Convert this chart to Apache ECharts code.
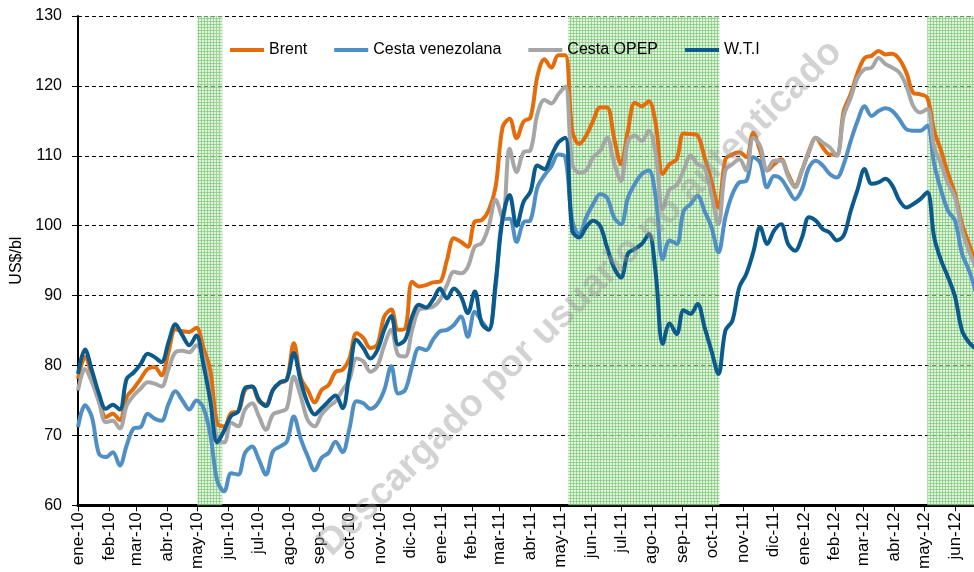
<!DOCTYPE html>
<html>
<head>
<meta charset="utf-8">
<script src="https://cdn.jsdelivr.net/npm/echarts@6/dist/echarts.min.js"></script>
<style>
  html, body { margin: 0; padding: 0; background: #fff; }
  #chart { width: 974px; height: 572px; }
</style>
</head>
<body>
<div id="chart"></div>
<script>
// weekly quotes, first week starts 2010-01-01
const firstWeek = '2010-01-01'

const brent = [
  78.1, 81.2, 78.6, 75.5, 72.6, 73.1, 72.2, 75.5, 76.7, 78.1,
  79.5, 79.8, 78.6, 81.9, 85.2, 84.9, 84.8, 85.4, 82.6, 79.3,
  71.7, 71.3, 73.2, 73.4, 76.5, 77.0, 74.9, 74.4, 76.5, 77.5,
  78.0, 83.2, 78.2, 76.5, 74.7, 76.5, 77.2, 79.1, 79.4, 81.0,
  84.6, 83.9, 82.5, 83.0, 87.0, 88.0, 85.1, 85.3, 92.0, 91.3,
  91.5, 91.9, 92.0, 95.1, 98.2, 97.7, 97.0, 100.6, 100.8, 102.2,
  105.6, 114.1, 115.3, 112.5, 114.9, 115.5, 121.4, 123.8, 122.6, 124.4,
  124.4, 113.6, 111.7, 112.9, 115.0, 116.9, 116.9, 112.6, 108.8, 113.6,
  117.6, 117.1, 117.8, 114.5, 107.4, 108.8, 109.5, 113.2, 113.1, 112.9,
  109.8, 106.4, 102.6, 109.5, 110.2, 110.5, 109.8, 113.3, 110.7, 107.9,
  108.8, 109.5, 107.4, 105.7, 107.9, 110.7, 112.6, 111.2, 110.2, 110.2,
  116.4, 118.8, 121.9, 124.0, 124.3, 125.0, 124.5, 124.6, 123.8, 121.9,
  119.0, 118.8, 118.3, 113.6, 110.7, 107.4, 104.5, 100.2, 97.4, 94.5
]

const venezolana = [
  71.2, 74.3, 72.6, 67.4, 66.9, 67.6, 65.7, 68.6, 71.0, 71.2,
  73.1, 72.4, 72.1, 74.5, 76.3, 75.0, 73.7, 75.0, 74.0, 70.2,
  63.5, 62.0, 64.6, 64.4, 67.5, 68.4, 66.5, 64.4, 67.7, 68.4,
  69.1, 72.7, 69.5, 67.0, 65.0, 66.8, 67.5, 69.1, 67.6, 71.0,
  74.9, 74.6, 73.8, 74.5, 76.5, 79.9, 76.0, 76.5, 79.9, 82.5,
  82.2, 83.7, 84.9, 85.1, 85.8, 87.0, 84.1, 87.7, 86.3, 85.1,
  91.3, 100.8, 101.0, 97.7, 100.5, 100.8, 105.5, 107.2, 108.5, 110.2,
  109.8, 100.7, 98.8, 101.2, 103.1, 104.5, 104.0, 101.2, 100.2, 104.0,
  106.0, 107.4, 107.9, 104.0, 95.2, 97.9, 97.4, 102.1, 103.1, 104.3,
  102.1, 99.8, 96.2, 101.2, 104.5, 106.2, 106.4, 109.8, 109.0, 105.5,
  107.1, 106.7, 105.2, 103.8, 105.2, 108.3, 109.3, 108.6, 107.4, 106.9,
  108.8, 112.1, 115.0, 117.1, 115.7, 116.4, 116.8, 116.4, 115.2, 113.8,
  113.6, 113.6, 114.3, 108.8, 105.0, 102.1, 100.7, 96.0, 93.6, 90.5
]

const opep = [
  76.4, 79.5, 77.6, 74.8, 71.9, 72.1, 71.0, 74.3, 75.7, 76.7,
  77.6, 77.4, 77.0, 79.5, 81.9, 82.1, 81.9, 82.9, 81.2, 75.5,
  69.5, 69.0, 71.8, 71.3, 73.7, 74.6, 72.7, 70.8, 73.0, 73.4,
  73.9, 78.4, 75.6, 72.2, 71.3, 73.0, 74.1, 74.9, 76.5, 78.0,
  81.0, 80.6, 79.1, 79.9, 82.9, 85.1, 81.5, 81.3, 85.1, 88.0,
  88.2, 88.4, 89.4, 91.5, 93.4, 93.2, 94.1, 97.0, 97.5, 99.9,
  103.7, 101.0, 111.0, 107.7, 110.5, 110.8, 116.0, 118.0, 117.5, 118.8,
  119.9, 108.8, 107.6, 107.9, 109.8, 110.7, 112.6, 109.0, 106.4, 112.1,
  112.9, 112.1, 113.6, 110.2, 102.4, 105.2, 105.8, 107.9, 110.0, 108.8,
  108.3, 104.5, 100.2, 107.9, 108.8, 109.5, 107.9, 112.6, 111.4, 107.9,
  109.3, 109.3, 107.1, 105.5, 107.9, 110.5, 112.6, 111.9, 111.2, 110.0,
  115.7, 118.3, 121.2, 122.4, 122.6, 124.0, 123.1, 122.6, 121.9, 120.0,
  117.1, 116.2, 116.7, 111.2, 108.8, 106.0, 104.0, 99.3, 96.4, 94.0
]

const wti = [
  78.8, 82.3, 79.3, 76.0, 73.8, 74.4, 73.7, 78.1, 79.0, 80.2,
  81.7, 81.2, 80.5, 83.3, 85.9, 84.3, 82.9, 84.3, 80.2, 75.0,
  69.0, 70.7, 72.8, 73.4, 76.8, 77.0, 75.1, 74.2, 76.5, 77.6,
  78.0, 81.8, 77.7, 74.6, 73.0, 73.9, 74.9, 75.7, 73.9, 78.9,
  83.7, 82.5, 81.0, 82.2, 85.1, 87.1, 83.0, 83.7, 87.0, 88.7,
  88.3, 89.4, 91.0, 89.6, 91.0, 89.9, 87.5, 90.6, 86.0, 85.1,
  92.0, 101.0, 104.4, 100.0, 103.4, 104.9, 108.6, 108.1, 110.0, 111.9,
  112.6, 99.3, 98.3, 99.8, 100.7, 100.0, 96.9, 94.0, 92.6, 96.0,
  96.7, 97.4, 98.8, 93.1, 83.1, 86.0, 84.5, 87.9, 87.4, 88.8,
  85.5, 82.1, 78.8, 85.0, 86.4, 91.2, 93.1, 96.2, 99.8, 97.4,
  99.3, 100.2, 97.4, 96.4, 98.3, 101.2, 100.7, 99.5, 99.0, 97.9,
  98.6, 102.1, 105.2, 108.1, 106.0, 106.2, 106.7, 105.7, 103.6, 102.6,
  103.1, 103.8, 104.8, 98.3, 95.0, 92.6, 89.8, 85.0, 83.3, 82.4
]

// shaded periods
const shadeStart = ['2010-05-01', '2011-05-09', '2012-05-04']
const shadeEnd = ['2010-05-26', '2011-10-08', '2012-06-30']

const monthNames = ['ene', 'feb', 'mar', 'abr', 'may', 'jun', 'jul', 'ago', 'sep', 'oct', 'nov', 'dic']

const DAY = 86400000
const t0 = new Date(firstWeek + 'T00:00:00').getTime()
const withDates = arr => arr.map((v, i) => [t0 + i * 7 * DAY, v])

// green cross-hatch like the excel pattern fill
function hatch() {
  const c = document.createElement('canvas')
  c.width = 3
  c.height = 3
  const ctx = c.getContext('2d')
  ctx.fillStyle = 'rgba(200,232,190,0.55)'
  ctx.fillRect(0, 0, 3, 3)
  ctx.fillStyle = 'rgba(115,195,115,0.6)'
  ctx.fillRect(0, 0, 3, 1)
  ctx.fillRect(0, 0, 1, 3)
  return c
}

const font = 'Liberation Sans, Arial, sans-serif'
const chart = echarts.init(document.getElementById('chart'))

const lineSeries = (name, data, color) => ({
  name,
  type: 'line',
  data: withDates(data),
  symbol: 'none',
  smooth: 0.35,
  lineStyle: { width: 4, color },
  itemStyle: { color },
  z: 2
})

chart.setOption({
  animation: false,
  grid: { left: 78, right: 0, top: 16, bottom: 66 },
  legend: {
    data: ['Brent', 'Cesta venezolana', 'Cesta OPEP', 'W.T.I'],
    icon: 'rect',
    left: 225,
    top: 37,
    itemWidth: 34,
    itemHeight: 4,
    itemGap: 27,
    textStyle: { fontFamily: font, fontSize: 16, color: '#000' }
  },
  xAxis: {
    type: 'time',
    min: '2010-01-01',
    max: '2012-06-20',
    splitNumber: 30,
    minInterval: 28 * DAY,
    maxInterval: 31 * DAY,
    axisLine: { lineStyle: { color: '#000', width: 3 } },
    axisTick: { show: true, length: 6, lineStyle: { color: '#000', width: 1 } },
    splitLine: { show: false },
    axisLabel: {
      rotate: 90,
      margin: 7,
      fontFamily: font,
      fontSize: 17,
      color: '#000',
      hideOverlap: false,
      formatter: v => {
        const d = new Date(v)
        return monthNames[d.getMonth()] + '-' + String(d.getFullYear()).slice(2)
      }
    }
  },
  yAxis: {
    type: 'value',
    min: 60,
    max: 130,
    interval: 10,
    name: 'US$/bl',
    nameLocation: 'middle',
    nameGap: 50,
    nameTextStyle: { fontFamily: font, fontSize: 16, color: '#000' },
    axisLine: { show: true, lineStyle: { color: '#000', width: 2 } },
    axisTick: { show: true, length: 6, lineStyle: { color: '#000' } },
    axisLabel: { margin: 16, fontFamily: font, fontSize: 16, color: '#000' },
    splitLine: { lineStyle: { color: '#000', type: [4, 3], width: 1 } }
  },
  series: [
    lineSeries('Brent', brent, '#E46C0A'),
    lineSeries('Cesta venezolana', venezolana, '#4F8FC4'),
    lineSeries('Cesta OPEP', opep, '#A6A6A6'),
    lineSeries('W.T.I', wti, '#0A5A8C'),
    {
      name: 'shade',
      type: 'line',
      data: [],
      z: 5,
      silent: true,
      markArea: {
        silent: true,
        itemStyle: { color: { image: hatch(), repeat: 'repeat' } },
        data: shadeStart.map((s, i) => [{ xAxis: s }, { xAxis: shadeEnd[i] }])
      }
    }
  ],
  graphic: [{
    type: 'text',
    x: 580,
    y: 298,
    rotation: 0.777,
    z: 100,
    silent: true,
    style: {
      text: 'Descargado por usuario no autenticado',
      fontFamily: font,
      fontWeight: 'bold',
      fontSize: 38,
      fill: 'rgba(150,150,150,0.42)',
      align: 'center',
      verticalAlign: 'middle'
    }
  }]
})
</script>
</body>
</html>
